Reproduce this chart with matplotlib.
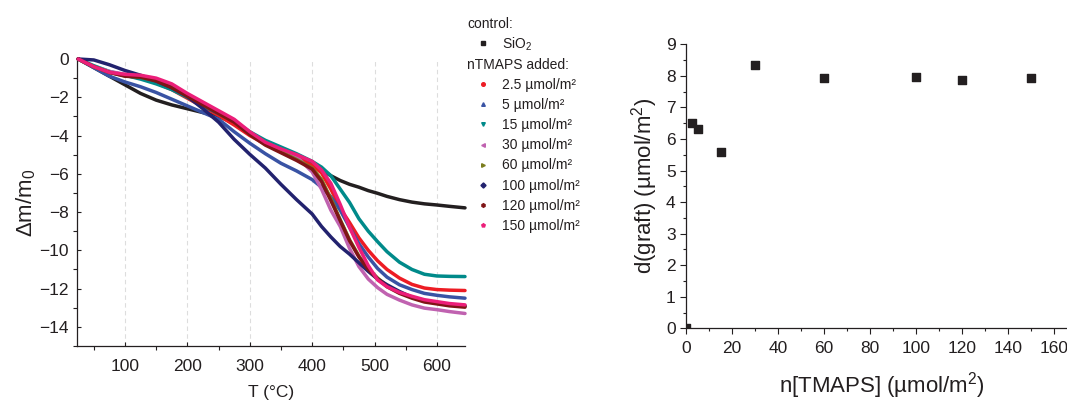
import matplotlib
matplotlib.use("Agg")
import numpy as np
import matplotlib.pyplot as plt
from matplotlib.lines import Line2D
from matplotlib.ticker import MultipleLocator

plt.rcParams['font.family'] = ['Liberation Sans', 'DejaVu Sans']
plt.rcParams['mathtext.fontset'] = 'custom'
plt.rcParams['mathtext.rm'] = 'Liberation Sans'
plt.rcParams['mathtext.it'] = 'Liberation Sans:italic'
plt.rcParams['mathtext.bf'] = 'Liberation Sans:bold'

# TGA curves, T in degC, mass loss in %
temp = [25, 50, 75, 100, 125, 150, 175, 200, 225, 250, 275, 300, 325, 350, 375,
        400, 415, 430, 445, 460, 475, 490, 505, 520, 540, 560, 580, 600, 620, 645]
sio2 = [0, -0.45, -0.9, -1.35, -1.8, -2.15, -2.4, -2.6, -2.8, -3.0, -3.35, -3.85, -4.35, -4.75, -5.1,
        -5.45, -5.8, -6.1, -6.35, -6.55, -6.7, -6.88, -7.02, -7.18, -7.35, -7.48, -7.57, -7.63, -7.7, -7.78]
n2p5 = [0, -0.4, -0.7, -0.85, -1.0, -1.25, -1.6, -2.05, -2.5, -2.95, -3.45, -4.0, -4.45, -4.8, -5.1,
        -5.55, -5.95, -6.8, -7.8, -8.55, -9.35, -10.0, -10.55, -11.0, -11.45, -11.78, -11.97, -12.05, -12.08, -12.1]
n5 = [0, -0.45, -0.9, -1.2, -1.45, -1.75, -2.1, -2.45, -2.8, -3.15, -3.8, -4.4, -4.95, -5.45, -5.85,
      -6.3, -6.7, -7.2, -7.9, -8.8, -9.65, -10.35, -10.95, -11.4, -11.8, -12.05, -12.25, -12.35, -12.43, -12.5]
n15 = [0, -0.35, -0.65, -0.85, -1.05, -1.3, -1.6, -2.0, -2.45, -2.85, -3.25, -3.8, -4.25, -4.6, -4.95,
       -5.35, -5.65, -6.1, -6.8, -7.5, -8.35, -9.0, -9.55, -10.07, -10.62, -11.0, -11.25, -11.34, -11.36, -11.37]
n30 = [0, -0.4, -0.65, -0.8, -0.9, -1.1, -1.45, -1.85, -2.35, -2.8, -3.2, -3.9, -4.4, -4.75, -5.1,
       -5.9, -6.8, -7.9, -8.75, -9.9, -10.85, -11.5, -11.95, -12.3, -12.6, -12.85, -13.02, -13.1, -13.2, -13.3]
n60 = [0, -0.4, -0.7, -0.88, -0.95, -1.12, -1.45, -1.9, -2.35, -2.8, -3.2, -3.92, -4.45, -4.85, -5.25,
       -5.7, -6.3, -7.3, -8.4, -9.45, -10.3, -10.95, -11.45, -11.85, -12.2, -12.45, -12.65, -12.75, -12.85, -12.92]
n100 = [0, -0.05, -0.3, -0.6, -0.85, -1.15, -1.5, -1.95, -2.6, -3.3, -4.2, -4.98, -5.7, -6.55, -7.35,
        -8.1, -8.75, -9.3, -9.8, -10.2, -10.65, -11.1, -11.5, -11.8, -12.15, -12.45, -12.62, -12.75, -12.83, -12.9]
n120 = [0, -0.4, -0.7, -0.9, -0.95, -1.15, -1.5, -1.95, -2.4, -2.85, -3.3, -3.95, -4.5, -4.9, -5.3,
        -5.75, -6.4, -7.4, -8.45, -9.5, -10.35, -11.0, -11.5, -11.9, -12.25, -12.5, -12.7, -12.8, -12.9, -12.97]
n150 = [0, -0.4, -0.7, -0.8, -0.85, -1.0, -1.3, -1.8, -2.25, -2.7, -3.15, -3.8, -4.35, -4.7, -5.0,
        -5.35, -5.8, -6.5, -7.6, -8.8, -9.85, -10.8, -11.55, -11.9, -12.2, -12.4, -12.58, -12.68, -12.78, -12.85]

series_labels = ['SiO$_2$', '2.5 µmol/m²', '5 µmol/m²', '15 µmol/m²', '30 µmol/m²',
                 '60 µmol/m²', '100 µmol/m²', '120 µmol/m²', '150 µmol/m²']

# grafting density vs added TMAPS
n_tmaps = [0, 2.5, 5, 15, 30, 60, 100, 120, 150]
d_graft = [0, 6.52, 6.33, 5.6, 8.35, 7.92, 7.95, 7.86, 7.94]

colors = ['#231f20', '#ed1c24', '#3953a4', '#008a8a', '#c062b0',
          '#7b7d1e', '#22226e', '#7f1416', '#ec1e79']
markers = ['s', 'o', '^', 'v', '<', '>', 'D', 'h', 'p']
txt = '#231f20'

fig = plt.figure(figsize=(10.67, 4.03), dpi=100)
ax1 = fig.add_axes([0.0724, 0.1414, 0.3634, 0.7122])
ax2 = fig.add_axes([0.643, 0.1854, 0.3664, 0.7046])

curves = [sio2, n2p5, n5, n15, n30, n60, n100, n120, n150]
for y, c in zip(curves, colors):
    ax1.plot(temp, y, color=c, lw=2.5, solid_capstyle='round', clip_on=False, zorder=3)

ax1.set_xlim(23.5, 645)
ax1.set_ylim(-15, 0)
ax1.xaxis.set_major_locator(MultipleLocator(100))
ax1.xaxis.set_minor_locator(MultipleLocator(50))
ax1.yaxis.set_major_locator(MultipleLocator(2))
ax1.yaxis.set_minor_locator(MultipleLocator(1))
ax1.grid(axis='x', which='major', color='#dddddd', ls=(0, (4, 3)), lw=0.8)
ax1.tick_params(which='major', direction='in', length=3, width=0.8, colors=txt, labelsize=12.5)
ax1.tick_params(axis='x', which='major', pad=9)
ax1.tick_params(axis='y', which='major', pad=6)
ax1.tick_params(which='minor', direction='out', length=3, width=0.8, colors=txt)
ax1.set_xlabel('T (°C)', fontsize=12.5, color=txt, labelpad=8)
ax1.set_ylabel('Δm/m$_0$', fontsize=16, color=txt, labelpad=1)

ax2.scatter(n_tmaps, d_graft, marker='s', s=36, color='#231f20', zorder=3)
ax2.set_xlim(0, 170)
ax2.set_ylim(0, 9)
ax2.xaxis.set_major_locator(MultipleLocator(20))
ax2.xaxis.set_minor_locator(MultipleLocator(10))
ax2.yaxis.set_major_locator(MultipleLocator(1))
ax2.yaxis.set_minor_locator(MultipleLocator(0.5))
ax2.tick_params(which='major', direction='out', length=4, width=0.8, colors=txt, labelsize=12.5)
ax2.tick_params(which='minor', direction='out', length=2.5, width=0.8, colors=txt)
ax2.tick_params(axis='x', which='major', pad=5)
ax2.set_xlabel('n[TMAPS] (µmol/m$^2$)', fontsize=16, color=txt, labelpad=10)
ax2.set_ylabel('d(graft) (µmol/m$^2$)', fontsize=16, color=txt, labelpad=4)

for ax in (ax1, ax2):
    ax.spines['top'].set_visible(False)
    ax.spines['right'].set_visible(False)
    for s in ('left', 'bottom'):
        ax.spines[s].set_color(txt)
        ax.spines[s].set_linewidth(0.9)

handles = [Line2D([], [], ls='none', marker=m, color=c, markersize=2.6)
           for m, c in zip(markers, colors)]
leg_kw = dict(frameon=False, fontsize=10, handlelength=2.3, handletextpad=0.25,
              borderpad=0, alignment='left', title_fontsize=10)
leg1 = fig.legend(handles[:1], series_labels[:1], title='control:', loc='upper left',
                  bbox_to_anchor=(460 / 1067, 1 - 10 / 403), labelspacing=0.3, **leg_kw)
leg2 = fig.legend(handles[1:], series_labels[1:], title='nTMAPS added:', loc='upper left',
                  bbox_to_anchor=(460 / 1067, 1 - 51 / 403), labelspacing=0.44, **leg_kw)
for leg in (leg1, leg2):
    leg.get_title().set_color(txt)
    for t in leg.get_texts():
        t.set_color(txt)

fig.savefig('out.png', dpi=100)
